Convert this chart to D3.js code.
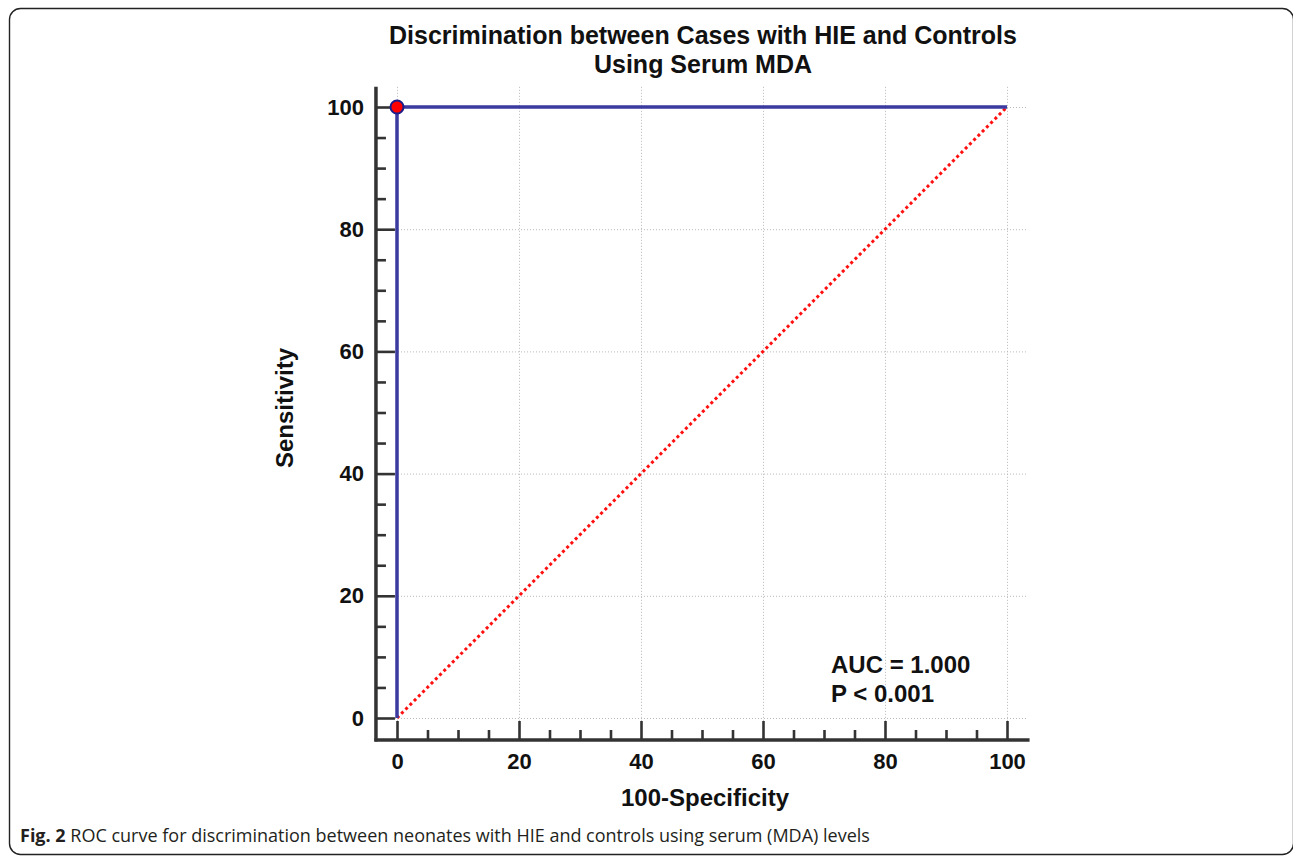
<!DOCTYPE html>
<html>
<head>
<meta charset="utf-8">
<script src="https://cdn.jsdelivr.net/npm/d3@7/dist/d3.min.js"></script>
<style>
  body { margin: 0; background: #fff; }
  svg { display: block; }
</style>
</head>
<body>
<div id="chart"></div>
<script>
// ROC curve points (100-Specificity, Sensitivity)
var rocX = [0, 0, 100];
var rocY = [0, 100, 100];
// reference diagonal
var diagX = [0, 100];
var diagY = [0, 100];
// optimal cut-off point
var cutX = [0];
var cutY = [100];
var majorTicks = [0, 20, 40, 60, 80, 100];
var minorTicks = [5, 10, 15, 25, 30, 35, 45, 50, 55, 65, 70, 75, 85, 90, 95];
var titleLines = ["Discrimination between Cases with HIE and Controls", "Using Serum MDA"];
var statLines = ["AUC = 1.000", "P < 0.001"];

var W = 1293, H = 856;
var boldFont = "'Liberation Sans', Arial, sans-serif";

var svg = d3.select("#chart").append("svg")
    .attr("width", W)
    .attr("height", H);

// figure frame
svg.append("rect")
    .attr("x", 9.5).attr("y", 8.5)
    .attr("width", 1284).attr("height", 846)
    .attr("rx", 11).attr("ry", 11)
    .style("fill", "none")
    .style("stroke", "#222")
    .style("stroke-width", 1.4);

var x = d3.scaleLinear().domain([0, 100]).range([397, 1007]);
var y = d3.scaleLinear().domain([0, 100]).range([718, 107]);

// axis extents (data units)
var xLo = -3.45, xHi = 103.7, yLo = -3.6, yHi = 103.3;
var axisY = y(yLo), axisX = x(xLo);

// grid
var grid = svg.append("g")
    .style("stroke", "#b8b8b8")
    .style("stroke-width", 1)
    .style("stroke-dasharray", "1,2");

grid.selectAll(".vgrid")
    .data(majorTicks)
    .enter().append("line")
    .attr("x1", function(d) { return x(d) + 0.5; })
    .attr("x2", function(d) { return x(d) + 0.5; })
    .attr("y1", y(yHi))
    .attr("y2", axisY - 19);

grid.selectAll(".hgrid")
    .data(majorTicks)
    .enter().append("line")
    .attr("x1", axisX + 19)
    .attr("x2", x(103.3))
    .attr("y1", function(d) { return y(d) + 0.5; })
    .attr("y2", function(d) { return y(d) + 0.5; });

// axes
var xMajor = d3.axisBottom(x).tickValues(majorTicks).tickSize(-19).tickPadding(13).tickSizeOuter(0);
var xMinor = d3.axisBottom(x).tickValues(minorTicks).tickSize(-10).tickFormat("").tickSizeOuter(0);
var yMajor = d3.axisLeft(y).tickValues(majorTicks).tickSize(-19).tickPadding(12).tickSizeOuter(0);
var yMinor = d3.axisLeft(y).tickValues(minorTicks).tickSize(-10).tickFormat("").tickSizeOuter(0);

[[xMajor, "translate(0," + axisY + ")"], [xMinor, "translate(0," + axisY + ")"],
 [yMajor, "translate(" + axisX + ",0)"], [yMinor, "translate(" + axisX + ",0)"]].forEach(function(a) {
    var g = svg.append("g")
        .attr("transform", a[1])
        .call(a[0]);
    g.select(".domain").remove();
    g.selectAll(".tick line")
        .style("stroke", "#333")
        .style("stroke-width", 2.6);
    g.selectAll(".tick text")
        .style("font-family", boldFont)
        .style("font-weight", "bold")
        .style("font-size", "22px")
        .style("fill", "#111");
});

// axis lines
svg.append("line")
    .attr("x1", axisX - 1.5).attr("x2", x(xHi))
    .attr("y1", axisY).attr("y2", axisY)
    .style("stroke", "#333").style("stroke-width", 3.5);
svg.append("line")
    .attr("x1", axisX).attr("x2", axisX)
    .attr("y1", y(yHi)).attr("y2", axisY + 1.5)
    .style("stroke", "#333").style("stroke-width", 3.5);

// diagonal reference
var line = d3.line()
    .x(function(d) { return x(d[0]); })
    .y(function(d) { return y(d[1]); });

svg.append("path")
    .datum(d3.zip(diagX, diagY))
    .attr("d", line)
    .style("fill", "none")
    .style("stroke", "#ff1010")
    .style("stroke-width", 3)
    .style("stroke-dasharray", "3,3");

// ROC curve
svg.append("path")
    .datum(d3.zip(rocX, rocY))
    .attr("d", line)
    .style("fill", "none")
    .style("stroke", "#3a3aa0")
    .style("stroke-width", 3.5);

svg.selectAll(".dot")
    .data(d3.zip(cutX, cutY))
    .enter().append("circle")
    .attr("class", "dot")
    .attr("cx", function(d) { return x(d[0]); })
    .attr("cy", function(d) { return y(d[1]); })
    .attr("r", 6.5)
    .style("fill", "#ff0000")
    .style("stroke", "#1c1c8a")
    .style("stroke-width", 2);

// title
svg.selectAll(".title")
    .data(titleLines)
    .enter().append("text")
    .attr("x", 703)
    .attr("y", function(d, i) { return 44 + i * 29; })
    .style("text-anchor", "middle")
    .style("font-family", boldFont)
    .style("font-weight", "bold")
    .style("font-size", "25px")
    .style("fill", "#111")
    .text(function(d) { return d; });

// AUC annotation
svg.selectAll(".stat")
    .data(statLines)
    .enter().append("text")
    .attr("x", 831)
    .attr("y", function(d, i) { return 673 + i * 29; })
    .style("font-family", boldFont)
    .style("font-weight", "bold")
    .style("font-size", "24px")
    .style("fill", "#111")
    .text(function(d) { return d; });

// axis labels
svg.append("text")
    .attr("x", 705)
    .attr("y", 806)
    .style("text-anchor", "middle")
    .style("font-family", boldFont)
    .style("font-weight", "bold")
    .style("font-size", "24px")
    .style("fill", "#111")
    .text("100-Specificity");

svg.append("text")
    .attr("transform", "translate(293," + 408 + ") rotate(-90)")
    .style("text-anchor", "middle")
    .style("font-family", boldFont)
    .style("font-weight", "bold")
    .style("font-size", "24px")
    .style("fill", "#111")
    .text("Sensitivity");

// caption
var cap = svg.append("text")
    .attr("x", 20)
    .attr("y", 842)
    .style("font-family", "'Open Sans', sans-serif")
    .style("font-size", "18px")
    .style("fill", "#231f20");
cap.append("tspan").style("font-weight", "bold").text("Fig. 2");
cap.append("tspan").text(" ROC curve for discrimination between neonates with HIE and controls using serum (MDA) levels");
</script>
</body>
</html>
